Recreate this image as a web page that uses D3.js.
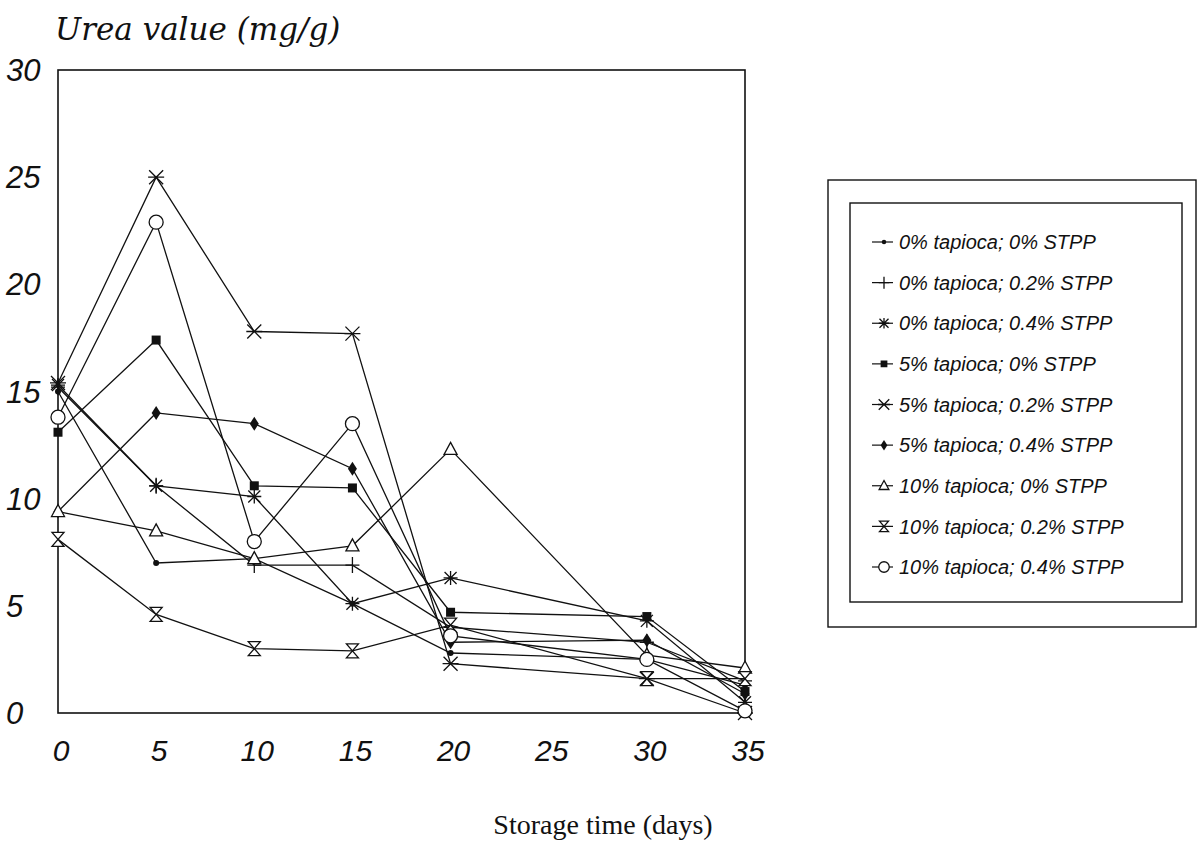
<!DOCTYPE html>
<html><head><meta charset="utf-8">
<script src="https://cdn.jsdelivr.net/npm/d3@7"></script>
<style>body{margin:0;background:#fff}</style>
</head><body>
<svg id="c" width="1199" height="843"></svg>
<script>
const days = [0, 5, 10, 15, 20, 30, 35];
const xTicks = [0, 5, 10, 15, 20, 25, 30, 35];
const yTicks = [0, 5, 10, 15, 20, 25, 30];
const seriesNames = [
  "0% tapioca; 0% STPP", "0% tapioca; 0.2% STPP", "0% tapioca; 0.4% STPP",
  "5% tapioca; 0% STPP", "5% tapioca; 0.2% STPP", "5% tapioca; 0.4% STPP",
  "10% tapioca; 0% STPP", "10% tapioca; 0.2% STPP", "10% tapioca; 0.4% STPP"
];
const markers = ["dot", "plus", "asterisk", "square", "xbar", "diamond", "triangle", "hourglass", "circle"];
const s0 = [15.0, 7.0, 7.2, 5.1, 2.8, 2.5, 1.3];
const s1 = [15.2, 10.6, 6.9, 6.9, 4.0, 3.3, 1.5];
const s2 = [15.3, 10.6, 10.1, 5.1, 6.3, 4.3, 0.5];
const s3 = [13.1, 17.4, 10.6, 10.5, 4.7, 4.5, 1.0];
const s4 = [15.4, 25.0, 17.8, 17.7, 2.3, 1.6, 0.0];
const s5 = [9.4, 14.0, 13.5, 11.4, 3.3, 3.4, 0.9];
const s6 = [9.4, 8.5, 7.2, 7.8, 12.3, 2.7, 2.1];
const s7 = [8.1, 4.6, 3.0, 2.9, 4.1, 1.6, 1.6];
const s8 = [13.8, 22.9, 8.0, 13.5, 3.6, 2.5, 0.1];
const seriesValues = [s0, s1, s2, s3, s4, s5, s6, s7, s8];

const svg = d3.select("#c");
const x = d3.scaleLinear().domain([0, 35]).range([58, 745]);
const y = d3.scaleLinear().domain([0, 30]).range([713, 70]);

// frame
svg.append("rect").attr("x", x(0)).attr("y", y(30)).attr("width", x(35) - x(0)).attr("height", y(0) - y(30))
  .attr("fill", "none").attr("stroke", "#111").attr("stroke-width", 1.6);

const numFont = "'Liberation Sans', Arial, sans-serif";
// y tick labels
svg.append("g").selectAll("text").data(yTicks).join("text")
  .attr("x", 6).attr("y", d => y(d)).attr("dy", "0.36em")
  .attr("font-family", numFont).attr("font-style", "italic").attr("font-size", 31).attr("fill", "#111")
  .text(d => d);
// x tick labels
svg.append("g").selectAll("text").data(xTicks).join("text")
  .attr("x", d => x(d) + 3).attr("y", 761).attr("text-anchor", "middle")
  .attr("font-family", numFont).attr("font-style", "italic").attr("font-size", 30).attr("fill", "#111")
  .text(d => d);

svg.append("text").attr("x", 55).attr("y", 40)
  .attr("font-family", "'DejaVu Serif', serif").attr("font-style", "italic").attr("font-size", 31).attr("fill", "#111")
  .text("Urea value (mg/g)");
svg.append("text").attr("x", 603).attr("y", 834).attr("text-anchor", "middle")
  .attr("font-family", "'Liberation Serif', 'Times New Roman', serif").attr("font-size", 28).attr("fill", "#111")
  .text("Storage time (days)");

function drawMarker(g, type, cx, cy, s) {
  const k = s || 1;
  const st = (sel) => sel.attr("stroke", "#111").attr("stroke-width", 1.3);
  switch (type) {
    case "dot":
      g.append("circle").attr("cx", cx).attr("cy", cy).attr("r", 3 * k).attr("fill", "#111"); break;
    case "plus":
      st(g.append("path").attr("d", `M${cx - 7 * k},${cy}H${cx + 7 * k}M${cx},${cy - 8 * k}V${cy + 8 * k}`).attr("fill", "none")); break;
    case "asterisk":
      st(g.append("path").attr("d", `M${cx - 7 * k},${cy}H${cx + 7 * k}M${cx},${cy - 7 * k}V${cy + 7 * k}M${cx - 6 * k},${cy - 6 * k}L${cx + 6 * k},${cy + 6 * k}M${cx - 6 * k},${cy + 6 * k}L${cx + 6 * k},${cy - 6 * k}`).attr("fill", "none")); break;
    case "square":
      g.append("rect").attr("x", cx - 4.5 * k).attr("y", cy - 4.5 * k).attr("width", 9 * k).attr("height", 9 * k).attr("fill", "#111"); break;
    case "xbar":
      st(g.append("path").attr("d", `M${cx - 7 * k},${cy - 7 * k}L${cx + 7 * k},${cy + 7 * k}M${cx - 7 * k},${cy + 7 * k}L${cx + 7 * k},${cy - 7 * k}M${cx - 8 * k},${cy}H${cx + 8 * k}`).attr("fill", "none")); break;
    case "diamond":
      g.append("path").attr("d", `M${cx},${cy - 7 * k}L${cx + 4.5 * k},${cy}L${cx},${cy + 7 * k}L${cx - 4.5 * k},${cy}Z`).attr("fill", "#111"); break;
    case "triangle":
      st(g.append("path").attr("d", `M${cx},${cy - 7 * k}L${cx + 6.5 * k},${cy + 5 * k}L${cx - 6.5 * k},${cy + 5 * k}Z`).attr("fill", "#fff")); break;
    case "hourglass":
      st(g.append("path").attr("d", `M${cx - 6 * k},${cy - 7 * k}H${cx + 6 * k}L${cx - 6 * k},${cy + 7 * k}H${cx + 6 * k}Z`).attr("fill", "#fff")); break;
    case "circle":
      st(g.append("circle").attr("cx", cx).attr("cy", cy).attr("r", 7 * k).attr("fill", "#fff")); break;
  }
}

const line = d3.line().x(d => x(d[0])).y(d => y(d[1]));
const plot = svg.append("g");
seriesValues.forEach((vals, i) => {
  const pts = days.map((d, j) => [d, vals[j]]);
  plot.append("path").datum(pts).attr("d", line).attr("fill", "none").attr("stroke", "#111").attr("stroke-width", 1.3);
});
seriesValues.forEach((vals, i) => {
  const g = plot.append("g");
  days.forEach((d, j) => drawMarker(g, markers[i], x(d), y(vals[j]), 1));
});

// legend
const lg = svg.append("g");
lg.append("rect").attr("x", 828).attr("y", 180).attr("width", 368).attr("height", 447)
  .attr("fill", "none").attr("stroke", "#111").attr("stroke-width", 1.4);
lg.append("rect").attr("x", 850).attr("y", 203).attr("width", 332).attr("height", 399)
  .attr("fill", "none").attr("stroke", "#111").attr("stroke-width", 1.4);
const ly = d3.scalePoint().domain(seriesNames).range([242, 567]);
seriesNames.forEach((name, i) => {
  const yy = ly(name);
  lg.append("line").attr("x1", 872).attr("x2", 893).attr("y1", yy).attr("y2", yy).attr("stroke", "#111").attr("stroke-width", 1.2);
  drawMarker(lg, markers[i], 884, yy, 0.75);
  lg.append("text").attr("x", 899).attr("y", yy).attr("dy", "0.36em")
    .attr("font-family", numFont).attr("font-style", "italic").attr("font-size", 20).attr("fill", "#111")
    .text(name);
});
</script>
</body></html>
